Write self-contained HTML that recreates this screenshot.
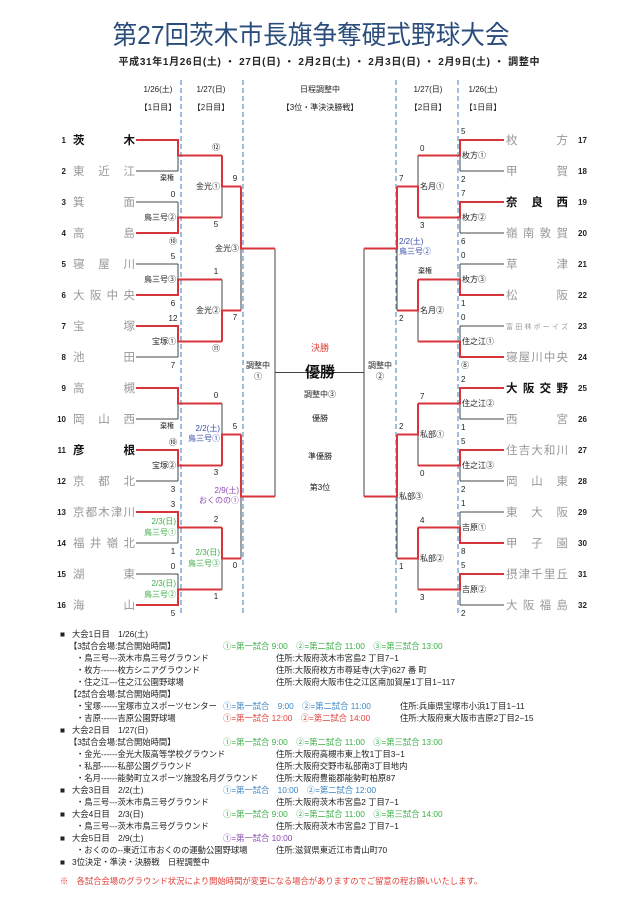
<!DOCTYPE html>
<html><head><meta charset="utf-8"><style>
html,body{margin:0;padding:0;background:#fff}
svg{display:block}
text{font-family:"Liberation Sans","Noto Sans CJK JP",sans-serif}
.n{font-size:8px;font-weight:bold;fill:#222}
.tm{font-size:11.5px;fill:#999}
.tw{font-size:11.5px;fill:#111;font-weight:bold}
.s{font-size:8px;fill:#222}
.l{font-size:8px;fill:#222}
.b{font-size:8.3px;fill:#222}
.g{fill:#3cae48}.bl{fill:#3a86c4}.rd{fill:#e0403a}.pu{fill:#8a4ab0}.nv{fill:#3b4fa8}
</style></head><body>
<svg width="640" height="905" viewBox="0 0 640 905" xmlns="http://www.w3.org/2000/svg">
<text x="311" y="44" text-anchor="middle" font-size="26" fill="#2b4d7c" textLength="397" lengthAdjust="spacingAndGlyphs">第27回茨木市長旗争奪硬式野球大会</text>
<text x="329" y="65" text-anchor="middle" font-size="10" font-weight="bold" fill="#222" textLength="421" lengthAdjust="spacing">平成31年1月26日(土) ・ 27日(日) ・ 2月2日(土) ・ 2月3日(日) ・ 2月9日(土) ・ 調整中</text>
<g font-size="8" fill="#222" text-anchor="middle">
<text x="158" y="92">1/26(土)</text><text x="158" y="110">【1日目】</text>
<text x="211" y="92">1/27(日)</text><text x="211" y="110">【2日目】</text>
<text x="320" y="92">日程調整中</text><text x="320" y="110">【3位・準決決勝戦】</text>
<text x="428" y="92">1/27(日)</text><text x="428" y="110">【2日目】</text>
<text x="483" y="92">1/26(土)</text><text x="483" y="110">【1日目】</text>
</g>
<g stroke="#6d9ccb" stroke-width="1.3" stroke-dasharray="5,3">
<line x1="181" y1="80" x2="181" y2="615"/><line x1="243" y1="80" x2="243" y2="615"/>
<line x1="396" y1="80" x2="396" y2="615"/><line x1="458" y1="80" x2="458" y2="615"/>
</g>
<!-- black structure -->
<g fill="none" stroke="#444" stroke-width="1">
<path d="M136,140H178M136,171H178M136,202H178M136,233H178M136,264H178M136,295H178M136,326H178M136,357H178M136,388H178M136,419H178M136,450H178M136,481H178M136,512H178M136,543H178M136,574H178M136,605H178"/>
<path d="M178,140V171M178,202V233M178,264V295M178,326V357M178,388V419M178,450V481M178,512V543M178,574V605"/>
<path d="M178,155.5H222M178,217.5H222M178,279.5H222M178,341.5H222M178,403.5H222M178,465.5H222M178,527.5H222M178,589.5H222"/>
<path d="M222,155.5V217.5M222,279.5V341.5M222,403.5V465.5M222,527.5V589.5M222,186.5H241M222,310.5H241M222,434.5H241M222,558.5H241"/>
<path d="M241,186.5V310.5M241,434.5V558.5M241,248.5H275M241,496.5H275M275,248.5V496.5M275,372.5H364"/>
<path d="M504,140H460M504,171H460M504,202H460M504,233H460M504,264H460M504,295H460M504,326H460M504,357H460M504,388H460M504,419H460M504,450H460M504,481H460M504,512H460M504,543H460M504,574H460M504,605H460"/>
<path d="M460,140V171M460,202V233M460,264V295M460,326V357M460,388V419M460,450V481M460,512V543M460,574V605"/>
<path d="M460,155.5H418M460,217.5H418M460,279.5H418M460,341.5H418M460,403.5H418M460,465.5H418M460,527.5H418M460,589.5H418"/>
<path d="M418,155.5V217.5M418,279.5V341.5M418,403.5V465.5M418,527.5V589.5M418,186.5H397M418,310.5H397M418,434.5H397M418,558.5H397"/>
<path d="M397,186.5V310.5M397,434.5V558.5M397,248.5H364M397,496.5H364M364,248.5V496.5"/>
</g>
<!-- red winners -->
<g fill="none" stroke="#d8343c" stroke-width="2">
<path d="M136,140H178V155.5H222M136,233H178V217.5H222M136,295H178V279.5H222M136,326H178V341.5H222M136,388H178V403.5H222M136,450H178V465.5H222M136,512H178V527.5H222M136,605H178V589.5H222"/>
<path d="M222,155.5V186.5H241M222,341.5V310.5H241M222,465.5V434.5H241M222,527.5V558.5H241M241,186.5V248.5H275M241,434.5V496.5H275"/>
<path d="M504,140H460V155.5H418M504,202H460V217.5H418M504,295H460V279.5H418M504,357H460V341.5H418M504,388H460V403.5H418M504,450H460V465.5H418M504,543H460V527.5H418M504,574H460V589.5H418"/>
<path d="M418,217.5V186.5H397M418,279.5V310.5H397M418,403.5V434.5H397M418,527.5V558.5H397M397,186.5V248.5H364M397,434.5V496.5H364"/>
</g>
<!-- left numbers -->
<g class="n" text-anchor="end">
<text x="66" y="143">1</text><text x="66" y="174">2</text><text x="66" y="205">3</text><text x="66" y="236">4</text><text x="66" y="267">5</text><text x="66" y="298">6</text><text x="66" y="329">7</text><text x="66" y="360">8</text><text x="66" y="391">9</text><text x="66" y="422">10</text><text x="66" y="453">11</text><text x="66" y="484">12</text><text x="66" y="515">13</text><text x="66" y="546">14</text><text x="66" y="577">15</text><text x="66" y="608">16</text>
</g>
<g lengthAdjust="spacing">
<text class="tw" x="73" y="144" textLength="62">茨木</text>
<text class="tm" x="73" y="175" textLength="62">東近江</text>
<text class="tm" x="73" y="206" textLength="62">箕面</text>
<text class="tm" x="73" y="237" textLength="62">高島</text>
<text class="tm" x="73" y="268" textLength="62">寝屋川</text>
<text class="tm" x="73" y="299" textLength="62">大阪中央</text>
<text class="tm" x="73" y="330" textLength="62">宝塚</text>
<text class="tm" x="73" y="361" textLength="62">池田</text>
<text class="tm" x="73" y="392" textLength="62">高槻</text>
<text class="tm" x="73" y="423" textLength="62">岡山西</text>
<text class="tw" x="73" y="454" textLength="62">彦根</text>
<text class="tm" x="73" y="485" textLength="62">京都北</text>
<text class="tm" x="73" y="516" textLength="62">京都木津川</text>
<text class="tm" x="73" y="547" textLength="62">福井嶺北</text>
<text class="tm" x="73" y="578" textLength="62">湖東</text>
<text class="tm" x="73" y="609" textLength="62">海山</text>
<text class="tm" x="506" y="144" textLength="62">枚方</text>
<text class="tm" x="506" y="175" textLength="62">甲賀</text>
<text class="tw" x="506" y="206" textLength="62">奈良西</text>
<text class="tm" x="506" y="237" textLength="62">嶺南敦賀</text>
<text class="tm" x="506" y="268" textLength="62">草津</text>
<text class="tm" x="506" y="299" textLength="62">松阪</text>
<text class="tm" x="506" y="329" textLength="62" style="font-size:7px">富田林ボーイズ</text>
<text class="tm" x="506" y="361" textLength="62">寝屋川中央</text>
<text class="tw" x="506" y="392" textLength="62">大阪交野</text>
<text class="tm" x="506" y="423" textLength="62">西宮</text>
<text class="tm" x="506" y="454" textLength="62">住吉大和川</text>
<text class="tm" x="506" y="485" textLength="62">岡山東</text>
<text class="tm" x="506" y="516" textLength="62">東大阪</text>
<text class="tm" x="506" y="547" textLength="62">甲子園</text>
<text class="tm" x="506" y="578" textLength="62">摂津千里丘</text>
<text class="tm" x="506" y="609" textLength="62">大阪福島</text>
</g>
<g class="n">
<text x="578" y="143">17</text><text x="578" y="174">18</text><text x="578" y="205">19</text><text x="578" y="236">20</text><text x="578" y="267">21</text><text x="578" y="298">22</text><text x="578" y="329">23</text><text x="578" y="360">24</text><text x="578" y="391">25</text><text x="578" y="422">26</text><text x="578" y="453">27</text><text x="578" y="484">28</text><text x="578" y="515">29</text><text x="578" y="546">30</text><text x="578" y="577">31</text><text x="578" y="608">32</text>
</g>
<!-- left scores / labels -->
<g class="s" text-anchor="middle">
<text x="167" y="180" font-size="7">棄権</text>
<text x="173" y="197">0</text><text x="173" y="244">⑩</text>
<text x="173" y="259">5</text><text x="173" y="306">6</text>
<text x="173" y="321">12</text><text x="173" y="368">7</text>
<text x="167" y="428" font-size="7">棄権</text>
<text x="173" y="445">⑩</text><text x="173" y="492">3</text>
<text x="173" y="507">3</text><text x="173" y="554">1</text>
<text x="173" y="569">0</text><text x="173" y="616">5</text>
<text x="216" y="150">⑫</text><text x="216" y="227">5</text>
<text x="216" y="274">1</text><text x="216" y="351">⑪</text>
<text x="216" y="398">0</text><text x="216" y="475">3</text>
<text x="216" y="522">2</text><text x="216" y="599">1</text>
<text x="235" y="181">9</text><text x="235" y="320">7</text>
<text x="235" y="429">5</text><text x="235" y="568">0</text>
</g>
<g class="l" text-anchor="end">
<text x="176" y="220">鳥三号②</text>
<text x="176" y="282">鳥三号③</text>
<text x="176" y="344">宝塚①</text>
<text x="176" y="468">宝塚②</text>
<text x="176" y="524" class="g">2/3(日)</text><text x="176" y="535" class="g">鳥三号①</text>
<text x="176" y="586" class="g">2/3(日)</text><text x="176" y="597" class="g">鳥三号②</text>
<text x="220" y="189">金光①</text>
<text x="220" y="313">金光②</text>
<text x="220" y="431" class="nv">2/2(土)</text><text x="220" y="441" class="nv">鳥三号①</text>
<text x="220" y="555" class="g">2/3(日)</text><text x="220" y="566" class="g">鳥三号③</text>
<text x="239" y="251">金光③</text>
<text x="239" y="493" class="pu">2/9(土)</text><text x="239" y="503" class="pu">おくのの①</text>
</g>
<!-- right scores / labels -->
<g class="s">
<text x="461" y="134">5</text><text x="461" y="182">2</text>
<text x="461" y="196">7</text><text x="461" y="244">6</text>
<text x="461" y="258">0</text><text x="461" y="306">1</text>
<text x="461" y="320">0</text><text x="461" y="368">⑧</text>
<text x="461" y="382">2</text><text x="461" y="430">1</text>
<text x="461" y="444">5</text><text x="461" y="492">2</text>
<text x="461" y="506">1</text><text x="461" y="554">8</text>
<text x="461" y="568">5</text><text x="461" y="616">2</text>
<text x="420" y="151">0</text><text x="420" y="228">3</text>
<text x="418" y="273" font-size="7">棄権</text>
<text x="420" y="399">7</text><text x="420" y="476">0</text>
<text x="420" y="523">4</text><text x="420" y="600">3</text>
<text x="399" y="181">7</text><text x="399" y="321">2</text>
<text x="399" y="429">2</text><text x="399" y="569">1</text>
</g>
<g class="l">
<text x="462" y="158">枚方①</text><text x="462" y="220">枚方②</text>
<text x="462" y="282">枚方③</text><text x="462" y="344">住之江①</text>
<text x="462" y="406">住之江②</text><text x="462" y="468">住之江③</text>
<text x="462" y="530">吉原①</text><text x="462" y="592">吉原②</text>
<text x="420" y="189">名月①</text><text x="420" y="313">名月②</text>
<text x="420" y="437">私部①</text><text x="420" y="561">私部②</text>
<text x="399" y="244" class="nv">2/2(土)</text><text x="399" y="254" class="nv">鳥三号②</text>
<text x="399" y="499">私部③</text>
</g>
<!-- center -->
<g text-anchor="middle" font-size="8" fill="#222">
<text x="258" y="368">調整中</text><text x="258" y="379">①</text>
<text x="380" y="368">調整中</text><text x="380" y="379">②</text>
<text x="320" y="351" fill="#e0403a" font-size="9">決勝</text>
<text x="320" y="377" font-size="15" font-weight="bold" fill="#111">優勝</text>
<text x="320" y="397">調整中③</text>
<text x="320" y="421">優勝</text>
<text x="320" y="459">準優勝</text>
<text x="320" y="490">第3位</text>
</g>
<!-- bottom info -->
<g class="b">
<text x="60" y="637">■</text><text x="72" y="637">大会1日目　1/26(土)</text>
<text x="69" y="649">【3試合会場:試合開始時間】</text><text x="223" y="649" class="g">①=第一試合 9:00　②=第二試合 11:00　③=第三試合 13:00</text>
<text x="76" y="661">・鳥三号---茨木市鳥三号グラウンド</text><text x="276" y="661">住所:大阪府茨木市宮島2 丁目7−1</text>
<text x="76" y="673">・枚方------枚方シニアグラウンド</text><text x="276" y="673">住所:大阪府枚方市尊延寺(大字)627 番 町</text>
<text x="76" y="685">・住之江---住之江公園野球場</text><text x="276" y="685">住所:大阪府大阪市住之江区南加賀屋1丁目1−117</text>
<text x="69" y="697">【2試合会場:試合開始時間】</text>
<text x="76" y="709">・宝塚------宝塚市立スポーツセンター</text><text x="223" y="709" class="bl">①=第一試合　9:00　②=第二試合 11:00</text><text x="400" y="709">住所:兵庫県宝塚市小浜1丁目1−11</text>
<text x="76" y="721">・吉原------吉原公園野球場</text><text x="223" y="721" class="rd">①=第一試合 12:00　②=第二試合 14:00</text><text x="400" y="721">住所:大阪府東大阪市吉原2丁目2−15</text>
<text x="60" y="733">■</text><text x="72" y="733">大会2日目　1/27(日)</text>
<text x="69" y="745">【3試合会場:試合開始時間】</text><text x="223" y="745" class="g">①=第一試合 9:00　②=第二試合 11:00　③=第三試合 13:00</text>
<text x="76" y="757">・金光------金光大阪高等学校グラウンド</text><text x="276" y="757">住所:大阪府高槻市東上牧1丁目3−1</text>
<text x="76" y="769">・私部------私部公園グラウンド</text><text x="276" y="769">住所:大阪府交野市私部南3丁目地内</text>
<text x="76" y="781">・名月------能勢町立スポーツ施設名月グラウンド</text><text x="276" y="781">住所:大阪府豊能郡能勢町柏原87</text>
<text x="60" y="793">■</text><text x="72" y="793">大会3日目　2/2(土)</text><text x="223" y="793" class="bl">①=第一試合　10:00　②=第二試合 12:00</text>
<text x="76" y="805">・鳥三号---茨木市鳥三号グラウンド</text><text x="276" y="805">住所:大阪府茨木市宮島2 丁目7−1</text>
<text x="60" y="817">■</text><text x="72" y="817">大会4日目　2/3(日)</text><text x="223" y="817" class="g">①=第一試合 9:00　②=第二試合 11:00　③=第三試合 14:00</text>
<text x="76" y="829">・鳥三号---茨木市鳥三号グラウンド</text><text x="276" y="829">住所:大阪府茨木市宮島2 丁目7−1</text>
<text x="60" y="841">■</text><text x="72" y="841">大会5日目　2/9(土)</text><text x="223" y="841" class="pu">①=第一試合 10:00</text>
<text x="76" y="853">・おくのの--東近江市おくのの運動公園野球場</text><text x="276" y="853">住所:滋賀県東近江市青山町70</text>
<text x="60" y="865">■</text><text x="72" y="865">3位決定・準決・決勝戦　日程調整中</text>
<text x="60" y="884" class="rd">※　各試合会場のグラウンド状況により開始時間が変更になる場合がありますのでご留意の程お願いいたします。</text>
</g>
</svg>
</body></html>
